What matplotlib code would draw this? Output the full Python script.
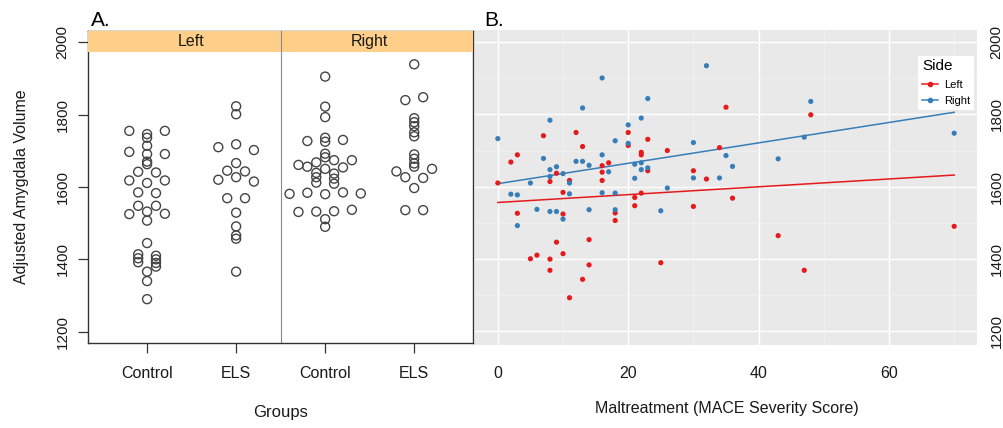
import numpy as np
import matplotlib
matplotlib.use("Agg")
import matplotlib.pyplot as plt
from matplotlib.patches import Rectangle
from matplotlib.lines import Line2D
import matplotlib.transforms as mtrans

plt.rcParams['font.family'] = ['Liberation Sans', 'DejaVu Sans']

# ---- Panel A data: (value, swarm slot) per group ----
group_labels = ['Control', 'ELS', 'Control', 'ELS']
side_labels = ['Left', 'Right']

left_ctrl = [1755, 1755, 1746, 1736, 1714, 1697, 1691, 1691, 1670, 1663, 1642, 1640,
             1618, 1618, 1611, 1585, 1583, 1548, 1548, 1525, 1526, 1532, 1507, 1445,
             1414, 1403, 1392, 1410, 1400, 1390, 1380, 1366, 1340, 1290]
left_ctrl_slot = [-2, 2, 0, 0, 0, -2, 2, 0, 0, 0, -1, 1,
                  -2, 2, 0, -1, 1, -1, 1, -2, 2, 0, 0, 0,
                  -1, -1, -1, 1, 1, 1, 1, 0, 0, 0]

left_els = [1823, 1801, 1710, 1718, 1702, 1666, 1645, 1643, 1627, 1620, 1615,
            1569, 1569, 1529, 1491, 1466, 1457, 1366]
left_els_slot = [0, 0, -2, 0, 2, 0, -1, 1, 0, -2, 2, -1, 1, 0, 0, 0, 0, 0]

right_ctrl = [1905, 1822, 1793, 1727, 1736, 1725, 1730, 1692, 1682, 1661, 1656,
              1668, 1674, 1674, 1654, 1650, 1639, 1627, 1612, 1637, 1623, 1609,
              1581, 1584, 1580, 1585, 1582, 1531, 1532, 1533, 1537, 1511, 1490]
right_ctrl_slot = [0, 0, 0, -2, 0, 0, 2, 0, 0, -3, -2,
                   -1, 1, 3, 2, 0, -1, -1, -1, 1, 1, 1,
                   -4, -2, 0, 2, 4, -3, -1, 1, 3, 0, 0]

right_els = [1939, 1840, 1848, 1790, 1779, 1768, 1751, 1740, 1690, 1678, 1665,
             1656, 1643, 1650, 1627, 1625, 1597, 1536, 1536]
right_els_slot = [0, -1, 1, 0, 0, 0, 0, 0, 0, 0, 0, 0, -2, 2, -1, 1, 0, -1, 1]

# ---- Panel B data: MACE score vs volume ----
left_mace = [0, 2, 3, 3, 5, 6, 7, 8, 8, 8, 9, 9, 10, 10, 10, 11, 11, 12, 13, 13,
             14, 14, 16, 16, 16, 17, 18, 18, 20, 20, 21, 21, 22, 22, 22, 23, 23,
             25, 26, 30, 30, 32, 34, 35, 36, 43, 47, 48, 70]
left_vol = [1610, 1668, 1688, 1526, 1400, 1410, 1741, 1614, 1399, 1368, 1637, 1446,
            1584, 1524, 1414, 1617, 1292, 1750, 1711, 1343, 1453, 1383, 1658, 1640,
            1617, 1666, 1527, 1506, 1750, 1714, 1570, 1547, 1695, 1688, 1582, 1731,
            1644, 1389, 1700, 1644, 1545, 1621, 1708, 1820, 1568, 1464, 1368, 1799,
            1490]

right_mace = [0, 2, 3, 3, 5, 6, 7, 8, 8, 8, 8, 9, 9, 10, 10, 11, 11, 12, 13, 13,
              14, 14, 16, 16, 16, 17, 18, 18, 18, 20, 20, 21, 21, 22, 22, 22, 23,
              23, 25, 26, 30, 30, 32, 34, 35, 36, 43, 47, 48, 70]
right_vol = [1733, 1579, 1577, 1492, 1610, 1537, 1678, 1784, 1647, 1628, 1531, 1655,
             1531, 1636, 1510, 1610, 1580, 1670, 1818, 1670, 1659, 1536, 1901, 1688,
             1583, 1641, 1727, 1582, 1536, 1771, 1720, 1662, 1623, 1790, 1666, 1647,
             1844, 1652, 1533, 1596, 1722, 1624, 1935, 1624, 1686, 1656, 1677, 1737,
             1836, 1748]

# fitted lines (end points)
fit_x = [0, 70]
left_fit = [1556, 1632]
right_fit = [1608, 1806]

red = '#E41A1C'
blue = '#377EB8'

fig = plt.figure(figsize=(10.04, 4.28), dpi=100)

# ================= Panel A =================
axA = fig.add_axes([88.3 / 1004, 1 - 343.3 / 428, (473 - 88.3) / 1004, (343.3 - 31) / 428])
groups = [(left_ctrl, left_ctrl_slot), (left_els, left_els_slot),
          (right_ctrl, right_ctrl_slot), (right_els, right_els_slot)]
for i, (vals, slots) in enumerate(groups):
    xs = (i + 1) + 0.1 * np.array(slots)
    axA.scatter(xs, vals, s=42, facecolors='none', edgecolors='#444444', linewidths=1.0)

axA.set_xlim(0.34, 4.66)
axA.set_ylim(1168, 2031)
axA.axvline(2.5, color='#8c8c8c', lw=0.8)

# strip on top
strip_h = 0.068
axA.add_patch(Rectangle((0, 1 - strip_h), 1, strip_h, transform=axA.transAxes,
                        facecolor='#FFCE88', edgecolor='none', zorder=3))
axA.plot([0.5, 0.5], [1 - strip_h, 1], transform=axA.transAxes, color='#8c8c8c', lw=0.8, zorder=4)
trans = mtrans.blended_transform_factory(axA.transData, axA.transAxes)
for xc, lab in zip([1.5, 3.5], side_labels):
    axA.text(xc, 1 - strip_h / 2, lab, transform=trans, ha='center', va='center',
             fontsize=11.5, color='#1a1a1a', zorder=5)

axA.set_xticks([1, 2, 3, 4])
axA.set_xticklabels(group_labels, fontsize=11.5, color='#1a1a1a')
axA.set_yticks([1200, 1400, 1600, 1800, 2000])
axA.set_yticklabels(['1200', '1400', '1600', '1800', '2000'], fontsize=11,
                    rotation=90, va='center', color='#1a1a1a')
axA.tick_params(axis='x', length=7, width=0.9, pad=9, color='#333333')
axA.tick_params(axis='y', length=7.5, width=0.9, pad=6, color='#333333')
for sp in axA.spines.values():
    sp.set_color('#333333')
    sp.set_linewidth(1.0)

fig.text(21.7 / 1004, 1 - 187 / 428, 'Adjusted Amygdala Volume', rotation=90,
         ha='center', va='center', fontsize=11.5, color='#1a1a1a')
fig.text(280.7 / 1004, 1 - 413 / 428, 'Groups', ha='center', va='center', fontsize=12,
         color='#1a1a1a')
fig.text(90.5 / 1004, 1 - 26.5 / 428, 'A.', ha='left', va='baseline', fontsize=15)

# ================= Panel B =================
axB = fig.add_axes([475 / 1004, 1 - 345 / 428, (977 - 475) / 1004, (345 - 30) / 428])
axB.set_facecolor('#E9E9E9')
axB.set_xlim(-3.5, 73.5)
axB.set_ylim(1161, 2034)
axB.set_xticks([0, 20, 40, 60])
axB.set_xticks([10, 30, 50, 70], minor=True)
axB.set_yticks([1200, 1400, 1600, 1800, 2000])
axB.set_yticks([1300, 1500, 1700, 1900], minor=True)
axB.grid(which='major', color='white', lw=1.0)
axB.grid(which='minor', color='#F4F4F4', lw=0.5)
axB.set_axisbelow(True)
for sp in axB.spines.values():
    sp.set_visible(False)

axB.scatter(left_mace, left_vol, s=14, color=red, edgecolors='none', zorder=3)
axB.scatter(right_mace, right_vol, s=14, color=blue, edgecolors='none', zorder=3)
axB.plot(fit_x, left_fit, color=red, lw=1.1, zorder=2)
axB.plot(fit_x, right_fit, color=blue, lw=1.1, zorder=2)

axB.yaxis.tick_right()
axB.set_xticklabels(['0', '20', '40', '60'], fontsize=11.5, color='#1a1a1a')
axB.set_yticklabels(['1200', '1400', '1600', '1800', '2000'], fontsize=11,
                    color='#1a1a1a', rotation=90, va='center')
axB.tick_params(axis='x', which='both', length=0, pad=15)
axB.tick_params(axis='y', which='both', length=0, pad=9)

handles = [Line2D([], [], color=red, lw=1.1, marker='o', markersize=3),
           Line2D([], [], color=blue, lw=1.1, marker='o', markersize=3)]
leg = axB.legend(handles, side_labels, title='Side', loc='upper left',
                 bbox_to_anchor=(0.872, 0.9365), fontsize=8, title_fontsize=11,
                 frameon=True, fancybox=False, framealpha=1, edgecolor='none',
                 handlelength=1.4, handletextpad=0.6, borderpad=0.35,
                 labelspacing=0.55)
leg._legend_box.align = 'left'

fig.text(727 / 1004, 1 - 408 / 428, 'Maltreatment (MACE Severity Score)', ha='center',
         va='center', fontsize=11.5, color='#1a1a1a')
fig.text(484 / 1004, 1 - 26 / 428, 'B.', ha='left', va='baseline', fontsize=15)

plt.savefig('out.png', dpi=100)
